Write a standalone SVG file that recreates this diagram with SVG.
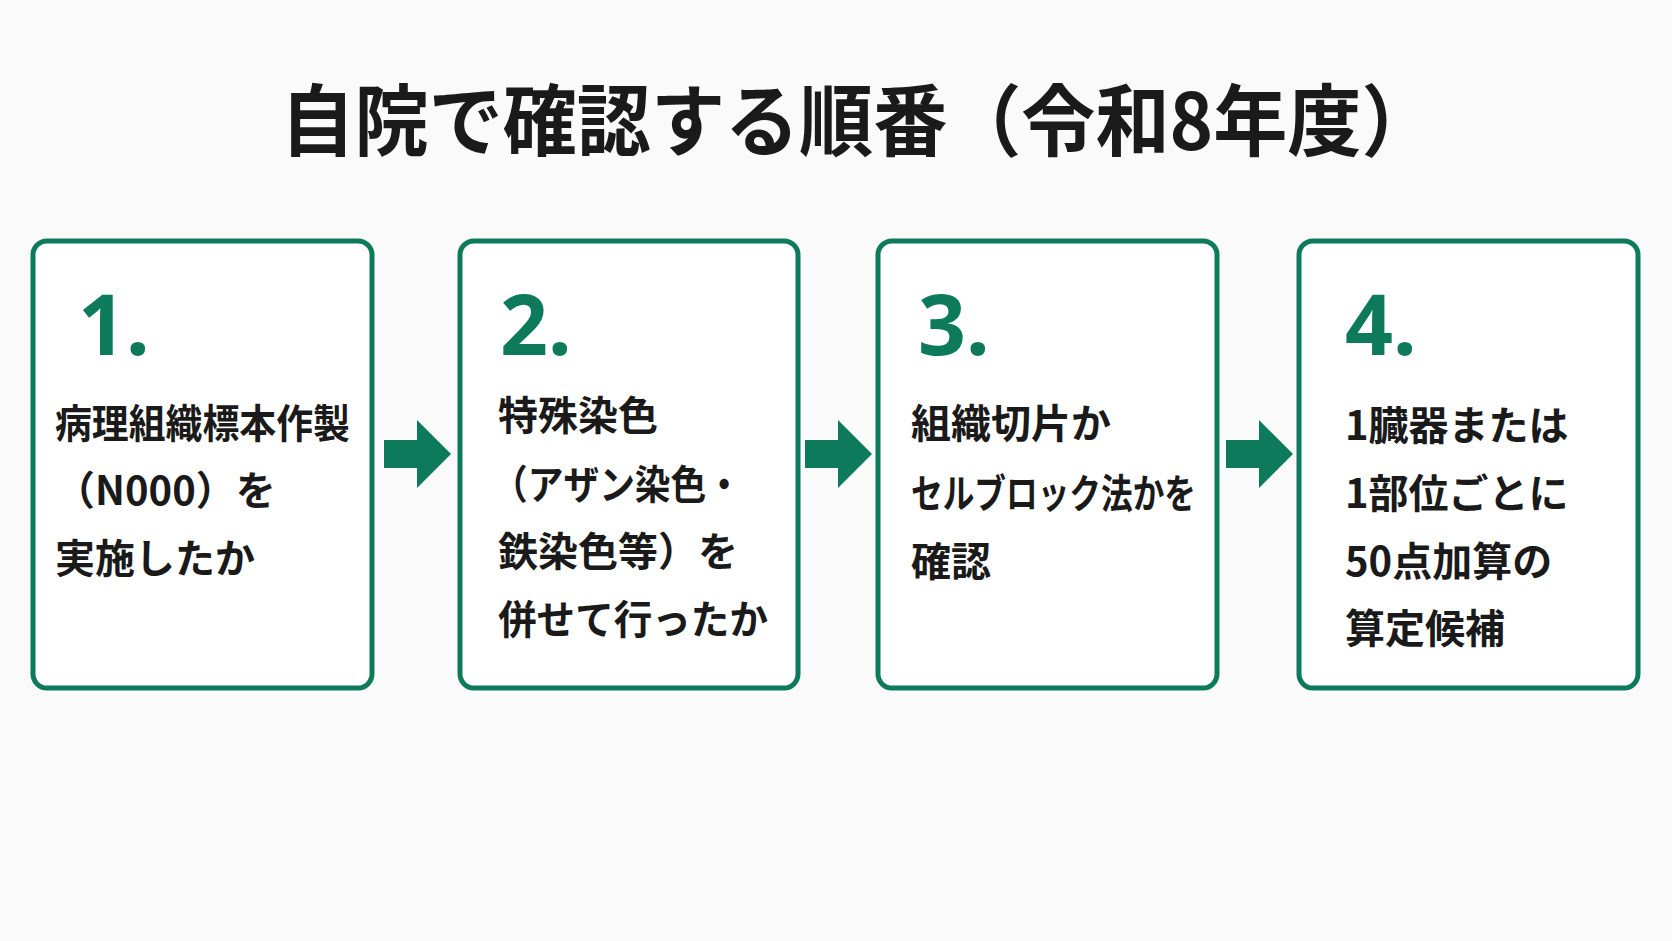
<svg xmlns="http://www.w3.org/2000/svg" width="1672" height="941" viewBox="0 0 1672 941">
<style>
.box{fill:#fff;stroke:#0d7a5c;stroke-width:5}
.num{font-family:"Noto Sans","Noto Sans CJK JP",sans-serif;font-weight:700;font-size:84px;fill:#0d7a5c}
.t{font-family:"Noto Sans CJK JP",sans-serif;font-weight:700;font-size:40px;fill:#1a1a1a}
.arr{fill:#0d7a5c}
</style>
<rect width="1672" height="941" fill="#fafafa"/>
<text x="858" y="150" text-anchor="middle" font-family="Noto Sans CJK JP, sans-serif" font-weight="700" font-size="78" fill="#1a1a1a" textLength="1155" lengthAdjust="spacingAndGlyphs">自院で確認する順番（令和8年度）</text>
<g id="connectors">
<path class="arr" d="M384,440 H417 V420 L451,454 L417,488 V468 H384 Z"/>
<path class="arr" d="M805,440 H838 V420 L872,454 L838,488 V468 H805 Z"/>
<path class="arr" d="M1226,440 H1259 V420 L1293,454 L1259,488 V468 H1226 Z"/>
</g>
<g id="node1">
<rect class="box" x="33" y="241" width="339" height="447" rx="14"/>
<text class="num" x="78" y="355">1.</text>
<text class="t" x="55" y="438" textLength="295" lengthAdjust="spacingAndGlyphs">病理組織標本作製</text>
<text class="t" x="55" y="505">（N000）を</text>
<text class="t" x="55" y="573">実施したか</text>
</g>
<g id="node2">
<rect class="box" x="460" y="241" width="338" height="447" rx="14"/>
<text class="num" x="500" y="355">2.</text>
<text class="t" x="498" y="430">特殊染色</text>
<text class="t" x="492" y="499" textLength="250" lengthAdjust="spacingAndGlyphs">（アザン染色・</text>
<text class="t" x="498" y="566">鉄染色等）を</text>
<text class="t" x="498" y="634" textLength="270" lengthAdjust="spacingAndGlyphs">併せて行ったか</text>
</g>
<g id="node3">
<rect class="box" x="878" y="241" width="339" height="447" rx="14"/>
<text class="num" x="918" y="355">3.</text>
<text class="t" x="911" y="438">組織切片か</text>
<text class="t" x="911" y="508" textLength="285" lengthAdjust="spacingAndGlyphs">セルブロック法かを</text>
<text class="t" x="911" y="576">確認</text>
</g>
<g id="node4">
<rect class="box" x="1299" y="241" width="339" height="447" rx="14"/>
<text class="num" x="1345" y="355">4.</text>
<text class="t" x="1345" y="440" font-size="42">1臓器または</text>
<text class="t" x="1345" y="508" font-size="42">1部位ごとに</text>
<text class="t" x="1345" y="576" font-size="42">50点加算の</text>
<text class="t" x="1345" y="643" font-size="42">算定候補</text>
</g>
</svg>
